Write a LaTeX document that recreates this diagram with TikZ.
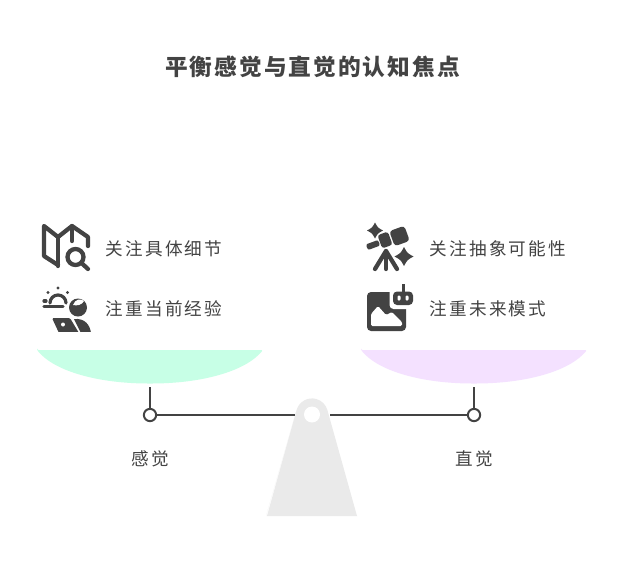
\documentclass[tikz,border=0pt]{standalone}
\usepackage{fontspec}
\newfontfamily\cjk[LetterSpace=12.5]{Noto Sans CJK SC}
\newfontfamily\cjkt[LetterSpace=9]{Noto Sans CJK SC}
\definecolor{ink}{HTML}{434343}
\definecolor{mint}{HTML}{C7FFE6}
\definecolor{lilac}{HTML}{F4E1FF}
\definecolor{base}{HTML}{EAEAEA}
\tikzset{
  x=0.75pt,y=-0.75pt,
  lbl/.style={font=\cjk\fontsize{13.2pt}{16pt}\selectfont,text=ink,inner sep=0pt},
  ttl/.style={font=\cjkt\bfseries\fontsize{17pt}{21pt}\selectfont,text=ink,inner sep=0pt},
  stroke/.style={draw=ink,line width=1.5pt},
  ico/.style={draw=ink,line width=3.2pt,line cap=round,line join=round},
  joint/.style={circle,draw=ink,fill=white,line width=1.5pt,minimum size=9.2pt,inner sep=0pt}
}
\newcommand{\sparkle}[3]{\fill[ink] (#1-#3,#2) .. controls (#1-#3*0.35,#2-#3*0.35) .. (#1,#2-#3) .. controls (#1+#3*0.35,#2-#3*0.35) .. (#1+#3,#2) .. controls (#1+#3*0.35,#2+#3*0.35) .. (#1,#2+#3) .. controls (#1-#3*0.35,#2+#3*0.35) .. cycle;}
\begin{document}
\begin{tikzpicture}
\useasboundingbox[fill=white] (0,0) rectangle (624,576);
\node[ttl] (title) at (312.5,67) {平衡感觉与直觉的认知焦点};
% pans
\fill[mint,rounded corners=1pt] (37,350) -- (263,350) .. controls (245,372) and (200,383.5) .. (150,383.5) .. controls (100,383.5) and (55,372) .. cycle;
\fill[lilac,rounded corners=1pt] (361,350) -- (587,350) .. controls (569,372) and (524,383.5) .. (474,383.5) .. controls (424,383.5) and (379,372) .. cycle;
% pedestal
\fill[base,rounded corners=1.5pt] (266,516) -- (296.6,410);
\fill[base] (267,516) -- (296.6,410) arc[start angle=196,end angle=344,radius=16] -- (357,516) -- cycle;
\fill[white] (312,414.5) circle[radius=8];
% beam
\coordinate (lpan) at (150,387);
\coordinate (rpan) at (474,387);
\coordinate (pl) at (295,415);
\coordinate (pr) at (330,415);
\node[joint] (lj) at (150,415) {};
\node[joint] (rj) at (474,415) {};
\draw[stroke] (lpan) -- (lj);
\draw[stroke] (rpan) -- (rj);
\draw[stroke] (lj) -- (pl);
\draw[stroke] (rj) -- (pr);
% labels
\node[lbl] (lsense) at (150.5,458.5) {感觉};
\node[lbl] (rsense) at (474.5,458.5) {直觉};
\node[lbl,anchor=west] (a1) at (105.5,249) {关注具体细节};
\node[lbl,anchor=west] (a2) at (105.5,309) {注重当前经验};
\node[lbl,anchor=west] (b1) at (429.5,249) {关注抽象可能性};
\node[lbl,anchor=west] (b2) at (429.5,309) {注重未来模式};
% map icon
\draw[ico] (58,265) -- (44,256) -- (44,226) -- (58,237) -- (72,226) -- (88,237) -- (88,246);
\draw[ico] (58,237) -- (58,266);
\draw[ico] (72,226) -- (72,241);
\draw[ico] (75.5,257) circle[radius=8];
\draw[ico] (81.5,263) -- (88,269);
% sun / person icon
\begin{scope}
\clip (38,282) rectangle (94,331);
\draw[ico,line width=2.4pt] (50,303) arc[start angle=180,end angle=360,radius=8];
\draw[ico,line width=2.4pt] (44,306.5) -- (63,306.5);
\draw[ico,line width=2.4pt] (44,301) -- (46,301);
\fill[ink] (58,288) circle[radius=1.6] (48,292.5) circle[radius=1.6] (67.5,292.5) circle[radius=1.6];
\fill[ink] (78,307.5) circle[radius=9];
\fill[white] (73,305) .. controls (77,306) and (82,305) .. (84,301) .. controls (81,298) and (75,299) .. (73,305) -- cycle;
\fill[ink,rounded corners=1pt] (52,318) -- (70,318) -- (79,333) -- (59,333) -- cycle;
\fill[white] (63,324.5) circle[radius=2];
\fill[ink] (74,319) .. controls (85,318) and (90,325) .. (91,333) -- (81,333) -- cycle;
\end{scope}
% telescope icon
\sparkle{375}{230.5}{8}
\sparkle{404}{256.5}{9.5}
\fill[ink,rounded corners=2.5pt,rotate around={20:(399.5,236)}] (391.5,228) rectangle (407.5,244);
\fill[ink,rounded corners=2pt,rotate around={20:(385,240)}] (379.5,233) rectangle (390.5,247);
\fill[ink,rounded corners=1.5pt,rotate around={20:(373,245)}] (366.5,242) rectangle (379.5,248);
\draw[ico] (375,269) -- (386,251) -- (397,269);
\draw[ico] (386,251) -- (386,269);
% picture / robot icon
\fill[ink,rounded corners=3pt] (367,292) rectangle (406,331);
\fill[white,rounded corners=3pt] (389.5,288) rectangle (416,309);
\fill[white,rounded corners=1pt] (371,326) -- (371,314) -- (378,306) -- (386,315) -- (392,312) -- (402,322) -- (402,326) -- cycle;
\fill[ink,rounded corners=3pt] (393,291.5) rectangle (413,305);
\draw[ink,line width=1.8pt] (403.5,284) -- (403.5,292);
\fill[white,rounded corners=0.8pt] (397.5,295.5) rectangle (400.5,300.5);
\fill[white,rounded corners=0.8pt] (405.5,295.5) rectangle (408.5,300.5);
\end{tikzpicture}
\end{document}
